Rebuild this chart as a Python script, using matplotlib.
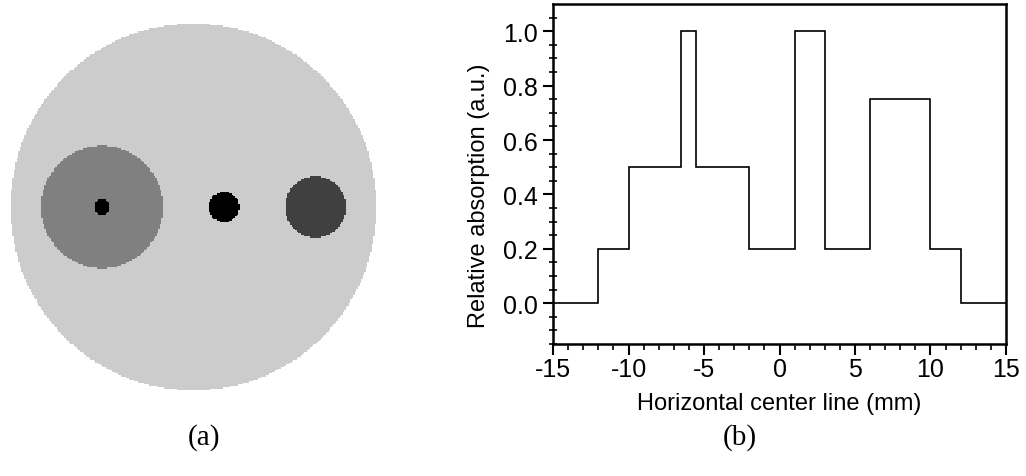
import numpy as np
import matplotlib
matplotlib.use("Agg")
import matplotlib.pyplot as plt

# phantom definition (mm): outer disk plus inserts, values = relative absorption
disk_radius = 12.0
disk_value = 0.2
insert_x = [-6.0, -6.0, 2.0, 8.0]
insert_r = [4.0, 0.5, 1.0, 2.0]
insert_value = [0.5, 1.0, 1.0, 0.75]

# horizontal centre line profile (step edges in mm and levels between them)
profile_edges = [-15, -12, -10, -6.5, -5.5, -2, 1, 3, 6, 10, 12, 15]
profile_levels = [0.0, 0.2, 0.5, 1.0, 0.5, 0.2, 1.0, 0.2, 0.75, 0.2, 0.0]

x_ticks = [-15, -10, -5, 0, 5, 10, 15]
y_ticks = [0.0, 0.2, 0.4, 0.6, 0.8, 1.0]

plt.rcParams['font.family'] = ['Liberation Sans', 'DejaVu Sans']

fig = plt.figure(figsize=(10.26, 4.77), dpi=100)

# (a) phantom image
ax_img = fig.add_axes([0.0088, 0.1761, 0.3596, 0.7736])
n = 240
half = 12.05
coords = np.linspace(-half, half, n)
xx, yy = np.meshgrid(coords, coords)
img = np.zeros_like(xx)
img[xx**2 + yy**2 <= disk_radius**2] = disk_value
for cx, r, v in zip(insert_x, insert_r, insert_value):
    img[(xx - cx)**2 + yy**2 <= r**2] = v
ax_img.imshow(1 - img, cmap="gray", vmin=0, vmax=1, interpolation="nearest",
              extent=[-half, half, -half, half], aspect="auto")
ax_img.axis("off")

# (b) profile
ax = fig.add_axes([0.539, 0.2767, 0.4415, 0.7128])
ax.stairs(profile_levels, profile_edges, color="black", linewidth=1.2)
ax.set_xlim(-15, 15)
ax.set_ylim(-0.15, 1.1)
ax.set_xticks(x_ticks)
ax.set_xticklabels([str(t) for t in x_ticks])
ax.set_yticks(y_ticks)
ax.set_yticklabels([f"{t:.1f}" for t in y_ticks])
ax.set_xticks(np.arange(-15, 16, 1), minor=True)
ax.set_yticks(np.arange(-0.15, 1.1, 0.05), minor=True)
ax.tick_params(axis="x", which="major", direction="out", length=8, width=1.5, labelsize=18, pad=1)
ax.tick_params(axis="x", which="minor", direction="out", length=4, width=1.2)
ax.tick_params(axis="y", which="major", direction="out", length=7, width=1.5, labelsize=18, pad=4)
ax.tick_params(axis="y", which="minor", direction="inout", length=6, width=1.2)
for s in ax.spines.values():
    s.set_linewidth(1.8)
ax.set_xlabel("Horizontal center line (mm)", fontsize=17, labelpad=8)
ax.set_ylabel("Relative absorption (a.u.)", fontsize=17)
ax.yaxis.set_label_coords(-0.14, 0.44)

fig.text(0.199, 0.083, "(a)", fontsize=21, family="Liberation Serif", ha="center", va="center")
fig.text(0.721, 0.083, "(b)", fontsize=21, family="Liberation Serif", ha="center", va="center")

fig.savefig("out.png", dpi=100)
